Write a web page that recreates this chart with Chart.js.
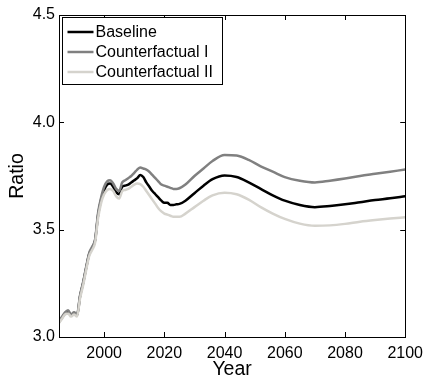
<!DOCTYPE html>
<html>
<head>
<meta charset="utf-8">
<script src="https://cdn.jsdelivr.net/npm/chart.js@4"></script>
<style>
    html, body { margin: 0; padding: 0; background: #fff; }
    #wrap { width: 430px; height: 382px; }
</style>
</head>
<body>
<div id="wrap"><canvas id="ratioChart" width="430" height="382"></canvas></div>
<script>
// Annual to 2025, then sparser (the curves are smooth there)
const years = [
    1985, 1986, 1987, 1988, 1989, 1990, 1991, 1992, 1993, 1994,
    1995, 1996, 1997, 1998, 1999, 2000, 2001, 2002, 2003, 2004,
    2005, 2006, 2007, 2008, 2009, 2010, 2011, 2012, 2013, 2014,
    2015, 2016, 2017, 2018, 2019, 2020, 2021, 2022, 2023, 2024,
    2025, 2027, 2030, 2033, 2036, 2040, 2044, 2048, 2052, 2056,
    2060, 2065, 2070, 2075, 2080, 2085, 2090, 2095, 2100
];

const baseline = [
    3.07, 3.09, 3.11, 3.12, 3.10, 3.11, 3.10, 3.19, 3.25, 3.32,
    3.385, 3.415, 3.45, 3.57, 3.64, 3.685, 3.71, 3.715, 3.70, 3.675,
    3.665, 3.70, 3.705, 3.71, 3.72, 3.73, 3.74, 3.755, 3.745, 3.72,
    3.70, 3.68, 3.665, 3.65, 3.635, 3.625, 3.625, 3.615, 3.615, 3.618,
    3.62, 3.635, 3.67, 3.705, 3.735, 3.752, 3.745, 3.72, 3.69, 3.66,
    3.635, 3.615, 3.605, 3.61, 3.618, 3.628, 3.638, 3.646, 3.656
];

const counterfactual1 = [
    3.075, 3.095, 3.115, 3.125, 3.105, 3.115, 3.105, 3.195, 3.255, 3.325,
    3.39, 3.42, 3.455, 3.58, 3.65, 3.70, 3.725, 3.73, 3.715, 3.69,
    3.68, 3.72, 3.73, 3.74, 3.75, 3.765, 3.78, 3.79, 3.785, 3.78,
    3.77, 3.755, 3.74, 3.725, 3.71, 3.705, 3.70, 3.695, 3.69, 3.69,
    3.693, 3.71, 3.75, 3.785, 3.82, 3.848, 3.845, 3.825, 3.795, 3.77,
    3.745, 3.728, 3.72, 3.728, 3.738, 3.75, 3.76, 3.77, 3.78
];

const counterfactual2 = [
    3.065, 3.085, 3.105, 3.11, 3.095, 3.105, 3.095, 3.18, 3.24, 3.31,
    3.375, 3.405, 3.44, 3.555, 3.625, 3.665, 3.685, 3.69, 3.68, 3.655,
    3.645, 3.68, 3.685, 3.69, 3.70, 3.71, 3.715, 3.712, 3.70, 3.68,
    3.66, 3.64, 3.62, 3.60, 3.585, 3.575, 3.57, 3.565, 3.56, 3.56,
    3.56, 3.575, 3.605, 3.635, 3.66, 3.672, 3.665, 3.64, 3.605, 3.575,
    3.55, 3.528, 3.518, 3.52, 3.527, 3.537, 3.545, 3.552, 3.558
];

const xTicks = [2000, 2020, 2040, 2060, 2080, 2100];
const yTicks = [3.0, 3.5, 4.0, 4.5];

const FONT = "'Liberation Sans', Arial, Helvetica, sans-serif";

function toPoints(values) {
    return values.map((v, i) => ({ x: years[i], y: v }));
}

// Box around the plot with short inward ticks on all four sides
const framePlugin = {
    id: 'frame',
    afterDraw(chart) {
        const { ctx, chartArea: a, scales } = chart;
        const len = 5;
        ctx.save();
        ctx.strokeStyle = '#000';
        ctx.lineWidth = 1;
        ctx.strokeRect(Math.round(a.left) + 0.5, Math.round(a.top) + 0.5,
            Math.round(a.right - a.left), Math.round(a.bottom - a.top));
        ctx.beginPath();
        xTicks.forEach(v => {
            const px = Math.round(scales.x.getPixelForValue(v)) + 0.5;
            ctx.moveTo(px, a.bottom); ctx.lineTo(px, a.bottom - len);
            ctx.moveTo(px, a.top); ctx.lineTo(px, a.top + len);
        });
        yTicks.forEach(v => {
            const py = Math.round(scales.y.getPixelForValue(v)) + 0.5;
            ctx.moveTo(a.left, py); ctx.lineTo(a.left + len, py);
            ctx.moveTo(a.right, py); ctx.lineTo(a.right - len, py);
        });
        ctx.stroke();
        ctx.restore();
    }
};

// Legend drawn inside the top-left corner of the plot
const insideLegend = {
    id: 'insideLegend',
    afterDraw(chart) {
        const { ctx, chartArea: a } = chart;
        const x0 = Math.round(a.left) + 3.5, y0 = Math.round(a.top) + 2.5;
        const w = 160, h = 67;
        ctx.save();
        ctx.fillStyle = '#fff';
        ctx.fillRect(x0, y0, w, h);
        ctx.strokeStyle = '#000';
        ctx.lineWidth = 1;
        ctx.strokeRect(x0, y0, w, h);
        ctx.font = '16px ' + FONT;
        ctx.textBaseline = 'middle';
        chart.data.datasets.forEach((ds, i) => {
            const y = y0 + 14.5 + i * 20;
            ctx.strokeStyle = ds.borderColor;
            ctx.lineWidth = 2.5;
            ctx.beginPath();
            ctx.moveTo(x0 + 5, y);
            ctx.lineTo(x0 + 31, y);
            ctx.stroke();
            ctx.fillStyle = '#000';
            ctx.fillText(ds.label, x0 + 33, y + 1);
        });
        ctx.restore();
    }
};

new Chart(document.getElementById('ratioChart'), {
    type: 'line',
    data: {
        // higher order is painted first, so the light line ends up on top
        datasets: [{
            label: 'Baseline',
            data: toPoints(baseline),
            borderColor: '#000000',
            order: 3
        }, {
            label: 'Counterfactual I',
            data: toPoints(counterfactual1),
            borderColor: '#808080',
            order: 2
        }, {
            label: 'Counterfactual II',
            data: toPoints(counterfactual2),
            borderColor: '#d5d3cd',
            order: 1
        }]
    },
    options: {
        responsive: false,
        animation: false,
        layout: {
            padding: { left: 0, top: 15, right: 23, bottom: 0 }
        },
        elements: {
            point: { radius: 0 },
            line: { borderWidth: 2.5, cubicInterpolationMode: 'monotone' }
        },
        plugins: {
            legend: { display: false },
            tooltip: { enabled: false }
        },
        scales: {
            x: {
                type: 'linear',
                min: 1985,
                max: 2100,
                grid: { display: false, drawTicks: false },
                border: { display: false },
                afterBuildTicks: (scale) => {
                    scale.ticks = xTicks.map(v => ({ value: v }));
                },
                afterFit: (scale) => { scale.height = 45; },
                ticks: {
                    color: '#000',
                    padding: 7,
                    maxRotation: 0,
                    font: { family: FONT, size: 16 },
                    callback: (v) => String(v)
                },
                title: {
                    display: true,
                    text: 'Year',
                    color: '#000',
                    padding: { top: 0, bottom: 1 },
                    font: { family: FONT, size: 19.5 }
                }
            },
            y: {
                min: 3.0,
                max: 4.5,
                grid: { display: false, drawTicks: false },
                border: { display: false },
                afterBuildTicks: (scale) => {
                    scale.ticks = yTicks.map(v => ({ value: v }));
                },
                afterFit: (scale) => { scale.width = 59; },
                ticks: {
                    color: '#000',
                    padding: 4,
                    font: { family: FONT, size: 16 },
                    callback: (v) => v.toFixed(1)
                },
                title: {
                    display: true,
                    text: 'Ratio',
                    color: '#000',
                    padding: { top: 6, bottom: 0 },
                    font: { family: FONT, size: 19.5 }
                }
            }
        }
    },
    plugins: [framePlugin, insideLegend]
});
</script>
</body>
</html>
